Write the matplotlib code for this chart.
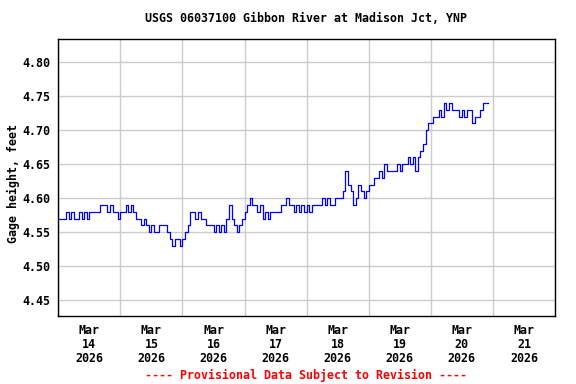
import matplotlib
matplotlib.use("Agg")
import matplotlib.pyplot as plt
import matplotlib.dates as mdates
import numpy as np
import pandas as pd

# gage height readings, hourly, starting Mar 14 2026 00:00
inicio = "2026-03-14 00:00"
dia1 = [4.57, 4.57, 4.57, 4.58, 4.57, 4.58, 4.57, 4.57, 4.58, 4.57, 4.58, 4.57,
        4.58, 4.58, 4.58, 4.58, 4.59, 4.59, 4.59, 4.58, 4.59, 4.58, 4.58, 4.57]
dia2 = [4.58, 4.58, 4.59, 4.58, 4.59, 4.58, 4.57, 4.57, 4.56, 4.57, 4.56, 4.55,
        4.56, 4.55, 4.55, 4.56, 4.56, 4.56, 4.55, 4.54, 4.53, 4.54, 4.54, 4.53]
dia3 = [4.54, 4.55, 4.56, 4.58, 4.58, 4.57, 4.58, 4.57, 4.57, 4.56, 4.56, 4.56,
        4.55, 4.56, 4.55, 4.56, 4.55, 4.57, 4.59, 4.57, 4.56, 4.55, 4.56, 4.57]
dia4 = [4.58, 4.59, 4.60, 4.59, 4.59, 4.58, 4.59, 4.57, 4.58, 4.57, 4.58, 4.58,
        4.58, 4.58, 4.59, 4.59, 4.60, 4.59, 4.59, 4.58, 4.59, 4.58, 4.59, 4.58]
dia5 = [4.59, 4.58, 4.59, 4.59, 4.59, 4.59, 4.60, 4.59, 4.60, 4.59, 4.59, 4.60,
        4.60, 4.60, 4.61, 4.64, 4.62, 4.61, 4.59, 4.60, 4.62, 4.61, 4.60, 4.61]
dia6 = [4.62, 4.62, 4.63, 4.63, 4.64, 4.63, 4.65, 4.64, 4.64, 4.64, 4.64, 4.65,
        4.64, 4.65, 4.65, 4.66, 4.65, 4.66, 4.64, 4.66, 4.67, 4.68, 4.70, 4.71]
dia7 = [4.71, 4.72, 4.72, 4.73, 4.72, 4.74, 4.73, 4.74, 4.73, 4.73, 4.73, 4.72,
        4.73, 4.72, 4.73, 4.73, 4.71, 4.72, 4.72, 4.73, 4.74, 4.74, 4.74]

altura = dia1 + dia2 + dia3 + dia4 + dia5 + dia6 + dia7
fechas = pd.date_range(inicio, periods=len(altura), freq="h")

etiquetas_y = [4.45, 4.50, 4.55, 4.60, 4.65, 4.70, 4.75, 4.80]

titulo = "USGS 06037100 Gibbon River at Madison Jct, YNP"
aviso = "---- Provisional Data Subject to Revision ----"

fuente = "DejaVu Sans Mono"
tam = 8.4

fig = plt.figure(figsize=(5.76, 3.84), dpi=100)
ax = fig.add_axes([0.1012, 0.1771, 0.8623, 0.7206])

ax.plot(fechas, altura, color="#0000ff", linewidth=0.9, drawstyle="steps-post")

ax.set_xlim(pd.Timestamp("2026-03-14"), pd.Timestamp("2026-03-22"))
ax.set_ylim(4.4269, 4.8338)

# grid at midnight, labels at noon
ax.xaxis.set_major_locator(mdates.DayLocator())
ax.xaxis.set_major_formatter(plt.NullFormatter())
ax.xaxis.set_minor_locator(mdates.HourLocator(byhour=[12]))
ax.xaxis.set_minor_formatter(mdates.DateFormatter("%b\n%d\n%Y"))
ax.set_yticks(etiquetas_y)
ax.set_yticklabels(["%.2f" % v for v in etiquetas_y])

ax.grid(True, which="major", color="#cccccc", linewidth=1)
ax.tick_params(which="both", length=0)
ax.tick_params(axis="x", which="minor", pad=6)
ax.tick_params(axis="y", pad=6)
for lab in ax.get_xticklabels(minor=True) + ax.get_yticklabels():
    lab.set_family(fuente)
    lab.set_weight("bold")
    lab.set_fontsize(tam)
    lab.set_linespacing(1.1)

for s in ax.spines.values():
    s.set_linewidth(1)
    s.set_color("black")

ax.set_ylabel("Gage height, feet", family=fuente, weight="bold", fontsize=tam)
ax.yaxis.set_label_coords(-0.078, 0.48)
fig.text(0.532, 0.951, titulo, ha="center", va="center", family=fuente, weight="bold", fontsize=tam)
fig.text(0.532, 0.022, aviso, ha="center", va="center", family=fuente, weight="bold",
         fontsize=tam, color="red")

fig.savefig("out.png", dpi=100)
